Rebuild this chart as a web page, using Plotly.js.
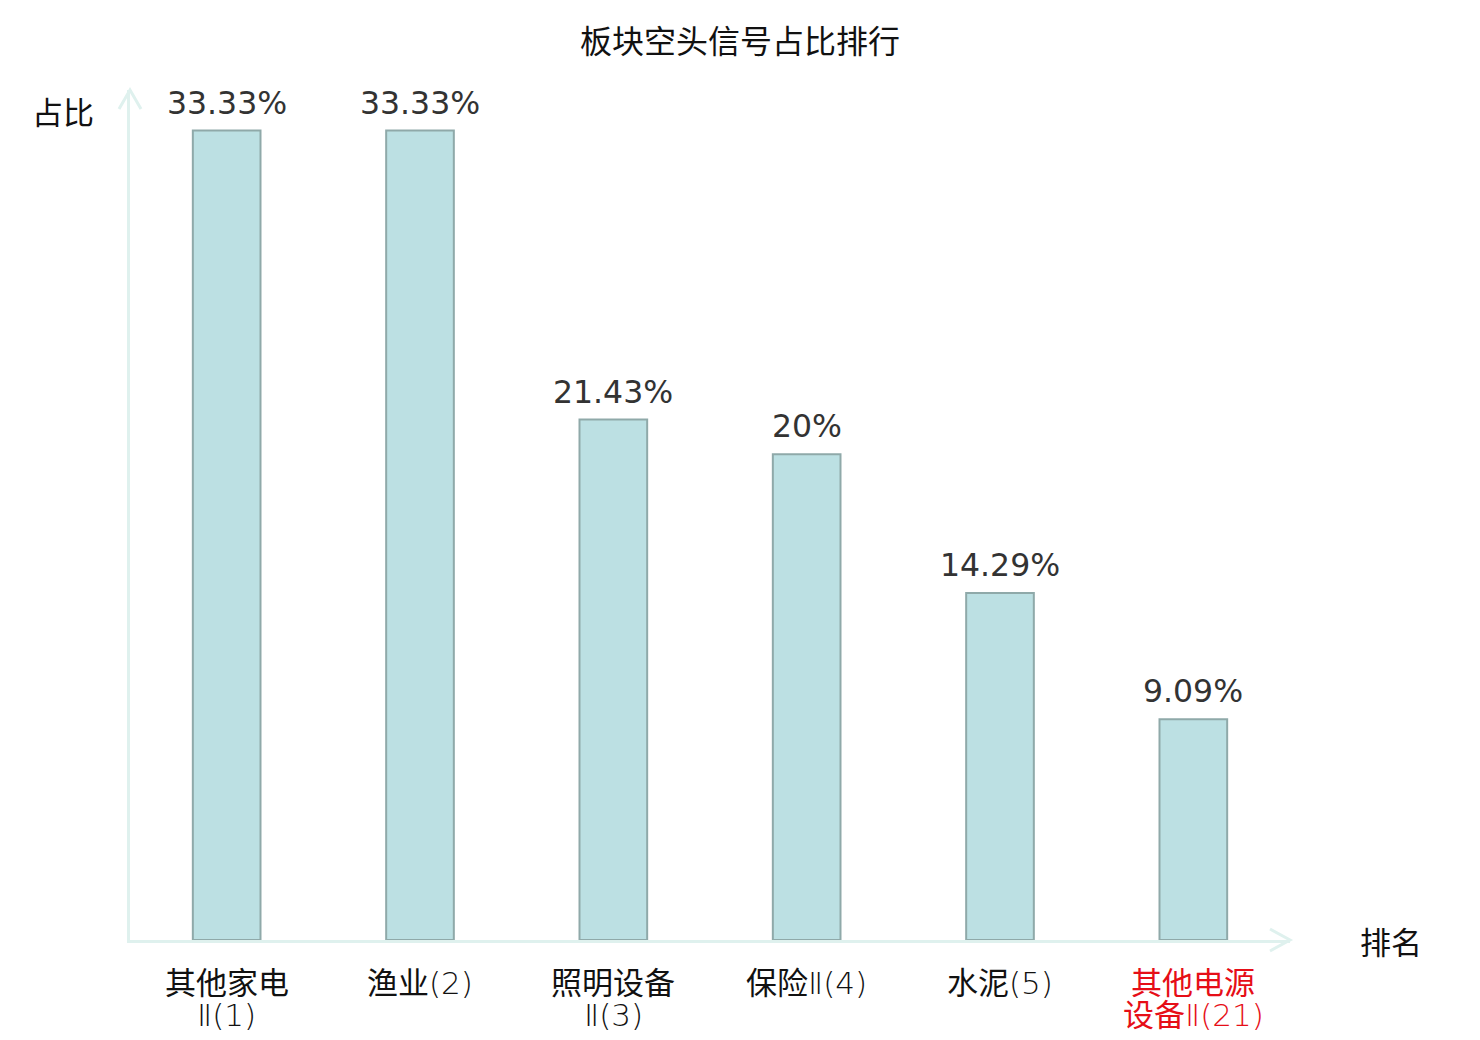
<!DOCTYPE html>
<html>
<head>
<meta charset="utf-8">
<script src="https://cdn.plot.ly/plotly-3.0.1.min.js"></script>
<style>
  html, body { margin: 0; padding: 0; background: #fff; }
  #chart { width: 1480px; height: 1040px; }
</style>
</head>
<body>
<div id="chart"></div>
<script>
// 板块空头信号占比排行
var categories = ['其他家电Ⅱ(1)', '渔业(2)', '照明设备Ⅱ(3)', '保险Ⅱ(4)', '水泥(5)', '其他电源设备Ⅱ(21)'];
var labelLines = [
  ['其他家电', 'Ⅱ(1)'],
  ['渔业(2)'],
  ['照明设备', 'Ⅱ(3)'],
  ['保险Ⅱ(4)'],
  ['水泥(5)'],
  ['其他电源', '设备Ⅱ(21)']
];
var labelColors = ['#111', '#111', '#111', '#111', '#111', '#e60e17'];
var values = [33.33, 33.33, 21.43, 20, 14.29, 9.09];
var valueText = ['33.33%', '33.33%', '21.43%', '20%', '14.29%', '9.09%'];

var axisColor = '#dff1ee';

var chart = document.getElementById('chart');

// chinese part normal weight, latin part thin
function styleLabel(s) {
  return s.replace(/[\u4e00-\u9fff]+/g, function (m) {
    return '<span style="font-weight:400">' + m + '</span>';
  });
}

var trace = {
  x: categories,
  y: values,
  type: 'bar',
  width: 0.35,
  marker: { color: '#bce0e3', line: { color: '#8fa9a9', width: 2 } },
  hoverinfo: 'x+y'
};

// value labels above bars
var annos = values.map(function (v, i) {
  return {
    x: categories[i], y: v, xref: 'x', yref: 'y',
    text: valueText[i], showarrow: false,
    xanchor: 'center', yanchor: 'bottom', yshift: 8,
    font: { family: 'DejaVu Sans', size: 31.5, color: '#333' }
  };
});

// category labels under the axis, one annotation per line
for (var i = 0; i < categories.length; i++) {
  for (var j = 0; j < labelLines[i].length; j++) {
    annos.push({
      x: categories[i], y: 0, xref: 'x', yref: 'paper',
      text: styleLabel(labelLines[i][j]), showarrow: false, height: 32,
      xanchor: 'center', yanchor: 'middle', yshift: -43 - 32 * j,
      font: { family: 'DejaVu Sans, Noto Sans CJK SC', weight: 200, size: 31, color: labelColors[i] }
    });
  }
}

// axis names
annos.push({
  x: 0, y: 1, xref: 'paper', yref: 'paper', xshift: -67, yshift: -20,
  text: '占比', showarrow: false, xanchor: 'center', yanchor: 'middle',
  font: { family: 'Noto Sans CJK SC', size: 31, color: '#111' }
});
annos.push({
  x: 1, y: 0, xref: 'paper', yref: 'paper', xshift: 101,
  text: '排名', showarrow: false, xanchor: 'center', yanchor: 'middle',
  font: { family: 'Noto Sans CJK SC', size: 31, color: '#111' }
});

var layout = {
  width: 1480,
  height: 1040,
  margin: { l: 130, r: 190, t: 90, b: 100 },
  paper_bgcolor: '#fff',
  plot_bgcolor: '#fff',
  showlegend: false,
  title: {
    text: '板块空头信号占比排行',
    x: 0.5, xref: 'container', y: 1 - 42 / 1040, yanchor: 'middle',
    font: { family: 'Noto Sans CJK SC', size: 32, color: '#111' }
  },
  xaxis: {
    showticklabels: false, showgrid: false, zeroline: false,
    showline: true, linecolor: axisColor, linewidth: 3,
    ticks: '', fixedrange: true
  },
  yaxis: {
    range: [0, 35], showticklabels: false, showgrid: false, zeroline: false,
    showline: true, linecolor: axisColor, linewidth: 3,
    ticks: '', fixedrange: true
  },
  annotations: annos,
  shapes: [
    // arrow heads on the axes
    {
      type: 'path', xref: 'paper', yref: 'paper',
      xsizemode: 'pixel', ysizemode: 'pixel', xanchor: 0, yanchor: 1,
      path: 'M-11,-19 L0,0 L11,-19',
      line: { color: axisColor, width: 3 }
    },
    {
      type: 'path', xref: 'paper', yref: 'paper',
      xsizemode: 'pixel', ysizemode: 'pixel', xanchor: 1, yanchor: 0,
      path: 'M-20,11 L0,0 L-20,-11',
      line: { color: axisColor, width: 3 }
    }
  ]
};

Plotly.newPlot(chart, [trace], layout, { displayModeBar: false, staticPlot: true });
</script>
</body>
</html>
